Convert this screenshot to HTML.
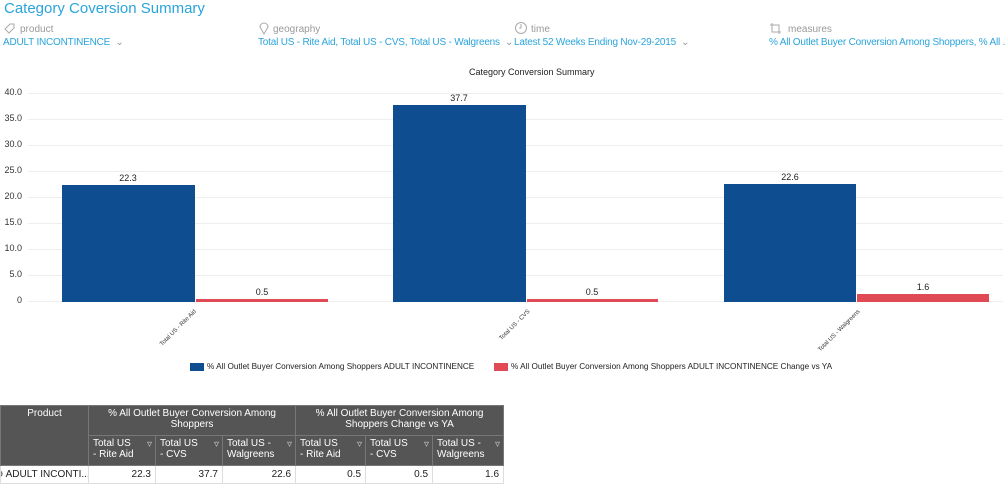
<!DOCTYPE html>
<html><head><meta charset="utf-8"><style>
body{margin:0;width:1005px;height:484px;background:#fff;font-family:"Liberation Sans",sans-serif;position:relative;overflow:hidden}
.a{position:absolute;white-space:nowrap}
.t{color:#2aa4dc}
.lbl{color:#999;font-size:10px}
.sel{color:#2aa4dc;font-size:10px;letter-spacing:-0.2px}
.g{position:absolute;left:28px;width:975px;height:1px;background:#eee}
.yl{position:absolute;left:0;width:22px;text-align:right;font-size:9px;color:#333}
.bar{position:absolute}
.v{position:absolute;font-size:9px;color:#222;text-align:center;width:60px}
.xl{position:absolute;font-size:6px;color:#333;transform-origin:right center;transform:rotate(-45deg)}
table{position:absolute;left:0;top:405px;border-collapse:collapse;font-size:10px;table-layout:fixed;width:503px}
th{background:#555;color:#fff;font-weight:normal;border:1px solid #777;padding:2px 4px;text-align:center;vertical-align:top;overflow:hidden}
th.s{text-align:left;position:relative}
th.s:after{content:"▿";position:absolute;right:3px;top:3px;color:#ccc;font-size:10px}
td{border:1px solid #ddd;text-align:right;padding:1px 4px;height:15px;color:#222;white-space:nowrap;overflow:hidden}
</style></head><body>
<div class="a t" style="left:4px;top:0px;font-size:15px">Category Coversion Summary</div>
<svg class="a" style="left:3px;top:22px" width="13" height="13"><path d="M2 7 L7 2 L11 2 L11 6 L6 11 Z" fill="none" stroke="#aaa"/></svg>
<div class="a lbl" style="left:20px;top:24px">product</div>
<div class="a sel" style="left:3px;top:37px">ADULT INCONTINENCE &nbsp;<span style="color:#999">⌄</span></div>
<svg class="a" style="left:258px;top:21px" width="12" height="14"><path d="M6 13 L2 6 A4 4 0 1 1 10 6 Z" fill="none" stroke="#aaa"/></svg>
<div class="a lbl" style="left:273px;top:24px">geography</div>
<div class="a sel" style="left:258px;top:37px">Total US - Rite Aid, Total US - CVS, Total US - Walgreens &nbsp;<span style="color:#999">⌄</span></div>
<svg class="a" style="left:514px;top:21px" width="14" height="14"><circle cx="7" cy="7" r="5.5" fill="none" stroke="#aaa"/><path d="M7 3 V7 H5" fill="none" stroke="#aaa"/></svg>
<div class="a lbl" style="left:531px;top:24px">time</div>
<div class="a sel" style="left:514px;top:37px">Latest 52 Weeks Ending Nov-29-2015 &nbsp;<span style="color:#999">⌄</span></div>
<svg class="a" style="left:769px;top:22px" width="13" height="13"><path d="M3 1 V10 H12 M1 3 H10 V12" fill="none" stroke="#aaa"/></svg>
<div class="a lbl" style="left:788px;top:24px">measures</div>
<div class="a sel" style="left:769px;top:37px">% All Outlet Buyer Conversion Among Shoppers, % All ...</div>
<div class="a" style="left:469px;top:67px;font-size:9px;color:#222">Category Conversion Summary</div>

<div class="g" style="top:93px"></div><div class="g" style="top:119px"></div><div class="g" style="top:145px"></div><div class="g" style="top:171px"></div><div class="g" style="top:197px"></div><div class="g" style="top:223px"></div><div class="g" style="top:249px"></div><div class="g" style="top:275px"></div><div class="g" style="top:301px"></div>
<div class="yl" style="top:87px">40.0</div><div class="yl" style="top:113px">35.0</div><div class="yl" style="top:139px">30.0</div><div class="yl" style="top:165px">25.0</div><div class="yl" style="top:191px">20.0</div><div class="yl" style="top:217px">15.0</div><div class="yl" style="top:243px">10.0</div><div class="yl" style="top:269px">5.0</div><div class="yl" style="top:295px">0</div>

<div class="bar" style="left:62px;width:133px;top:185px;height:117px;background:#0e4d8f"></div>
<div class="bar" style="left:196px;width:132px;top:299px;height:3px;background:#e04a55"></div>
<div class="bar" style="left:393px;width:133px;top:105px;height:197px;background:#0e4d8f"></div>
<div class="bar" style="left:527px;width:131px;top:299px;height:3px;background:#e04a55"></div>
<div class="bar" style="left:724px;width:132px;top:184px;height:118px;background:#0e4d8f"></div>
<div class="bar" style="left:857px;width:132px;top:294px;height:8px;background:#e04a55"></div>
<div class="v" style="left:98px;top:173px">22.3</div>
<div class="v" style="left:232px;top:287px">0.5</div>
<div class="v" style="left:429px;top:93px">37.7</div>
<div class="v" style="left:562px;top:287px">0.5</div>
<div class="v" style="left:760px;top:172px">22.6</div>
<div class="v" style="left:893px;top:282px">1.6</div>
<div class="xl" style="left:147px;top:308px">Total US - Rite Aid</div>
<div class="xl" style="left:489px;top:308px">Total US - CVS</div>
<div class="xl" style="left:803px;top:308px">Total US - Walgreens</div>

<div class="a" style="left:190px;top:363px;width:14px;height:8px;background:#0e4d8f"></div>
<div class="a" style="left:207px;top:362px;font-size:8.2px;color:#222">% All Outlet Buyer Conversion Among Shoppers ADULT INCONTINENCE</div>
<div class="a" style="left:494px;top:363px;width:14px;height:8px;background:#e04a55"></div>
<div class="a" style="left:511px;top:362px;font-size:8.2px;color:#222">% All Outlet Buyer Conversion Among Shoppers ADULT INCONTINENCE Change vs YA</div>

<table>
<colgroup><col style="width:88px"><col style="width:67px"><col style="width:67px"><col style="width:73px"><col style="width:70px"><col style="width:67px"><col style="width:71px"></colgroup>
<tr style="height:30px"><th rowspan="2">Product</th><th colspan="3">% All Outlet Buyer Conversion Among Shoppers</th><th colspan="3">% All Outlet Buyer Conversion Among Shoppers Change vs YA</th></tr>
<tr style="height:30px"><th class="s">Total US<br>- Rite Aid</th><th class="s">Total US<br>- CVS</th><th class="s">Total US -<br>Walgreens</th><th class="s">Total US<br>- Rite Aid</th><th class="s">Total US<br>- CVS</th><th class="s">Total US -<br>Walgreens</th></tr>
<tr><td style="text-align:left;padding-left:0;text-indent:-6px">⊕ ADULT INCONTI...</td><td>22.3</td><td>37.7</td><td>22.6</td><td>0.5</td><td>0.5</td><td>1.6</td></tr>
</table>
</body></html>
